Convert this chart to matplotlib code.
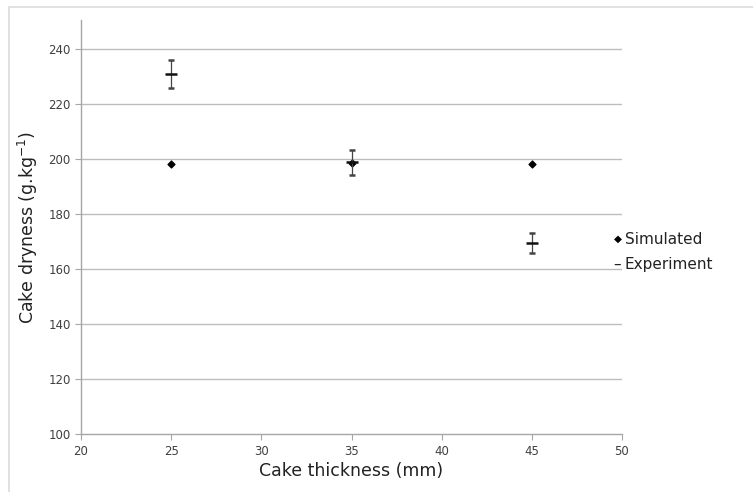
import matplotlib.pyplot as plt
from matplotlib.patches import Rectangle

# Data
thickness = [25, 35, 45]
simulated = [198.2, 198.4, 198.2]
experiment = [230.8, 198.8, 169.4]
experiment_err = [5.2, 4.5, 3.5]

xticks = [20, 25, 30, 35, 40, 45, 50]
yticks = [100, 120, 140, 160, 180, 200, 220, 240]

fig = plt.figure(figsize=(7.53, 4.92), dpi=100)
ax = fig.add_axes([81 / 753, 1 - 434 / 492, (622 - 81) / 753, (434 - 20) / 492])

# chart area border (Excel style)
fig.patches.append(Rectangle((9 / 753, -0.05), 1.1, 1 - 7 / 492 + 0.05,
                             transform=fig.transFigure, fill=False,
                             edgecolor='#dcdcdc', linewidth=1.2))

for y in yticks[1:]:
    ax.axhline(y, color='#bdbdbd', linewidth=1.0, zorder=0)

ax.scatter(thickness, simulated, marker='D', s=12, color='black',
           zorder=3, label='Simulated')
ax.errorbar(thickness, experiment, yerr=experiment_err, fmt='_',
            markersize=9, markeredgewidth=1.8, color='#111111',
            ecolor='#444444', elinewidth=0.9, capsize=2.5, capthick=0.8,
            zorder=4, label='Experiment')

ax.set_xlim(20, 50)
ax.set_ylim(100, 250.5)
ax.set_xticks(xticks)
ax.set_yticks(yticks)

for side in ['top', 'right']:
    ax.spines[side].set_visible(False)
for side in ['left', 'bottom']:
    ax.spines[side].set_color('#a6a6a6')
    ax.spines[side].set_linewidth(1.0)

ax.tick_params(axis='both', colors='#a6a6a6', labelcolor='#404040',
               labelsize=8.5, length=4, direction='out')
ax.tick_params(axis='x', pad=4)

ax.set_xlabel('Cake thickness (mm)', fontsize=12.5, color='#222222', labelpad=3)
ax.set_ylabel('Cake dryness (g.kg$^{-1}$)', fontsize=12.5, color='#222222', labelpad=6)

# legend drawn as text, like the Excel one
fig.text(614 / 753, 1 - 239 / 492, '\u25c6', fontsize=7.5,
         color='black', va='center', ha='left')
fig.text(625 / 753, 1 - 239 / 492, 'Simulated', fontsize=11,
         color='#222222', va='center', ha='left')
fig.text(613 / 753, 1 - 264 / 492, '\u2013', fontsize=11,
         color='#222222', va='center', ha='left')
fig.text(625 / 753, 1 - 264 / 492, 'Experiment', fontsize=11,
         color='#222222', va='center', ha='left')

fig.savefig('out.png', dpi=100, facecolor='white')
